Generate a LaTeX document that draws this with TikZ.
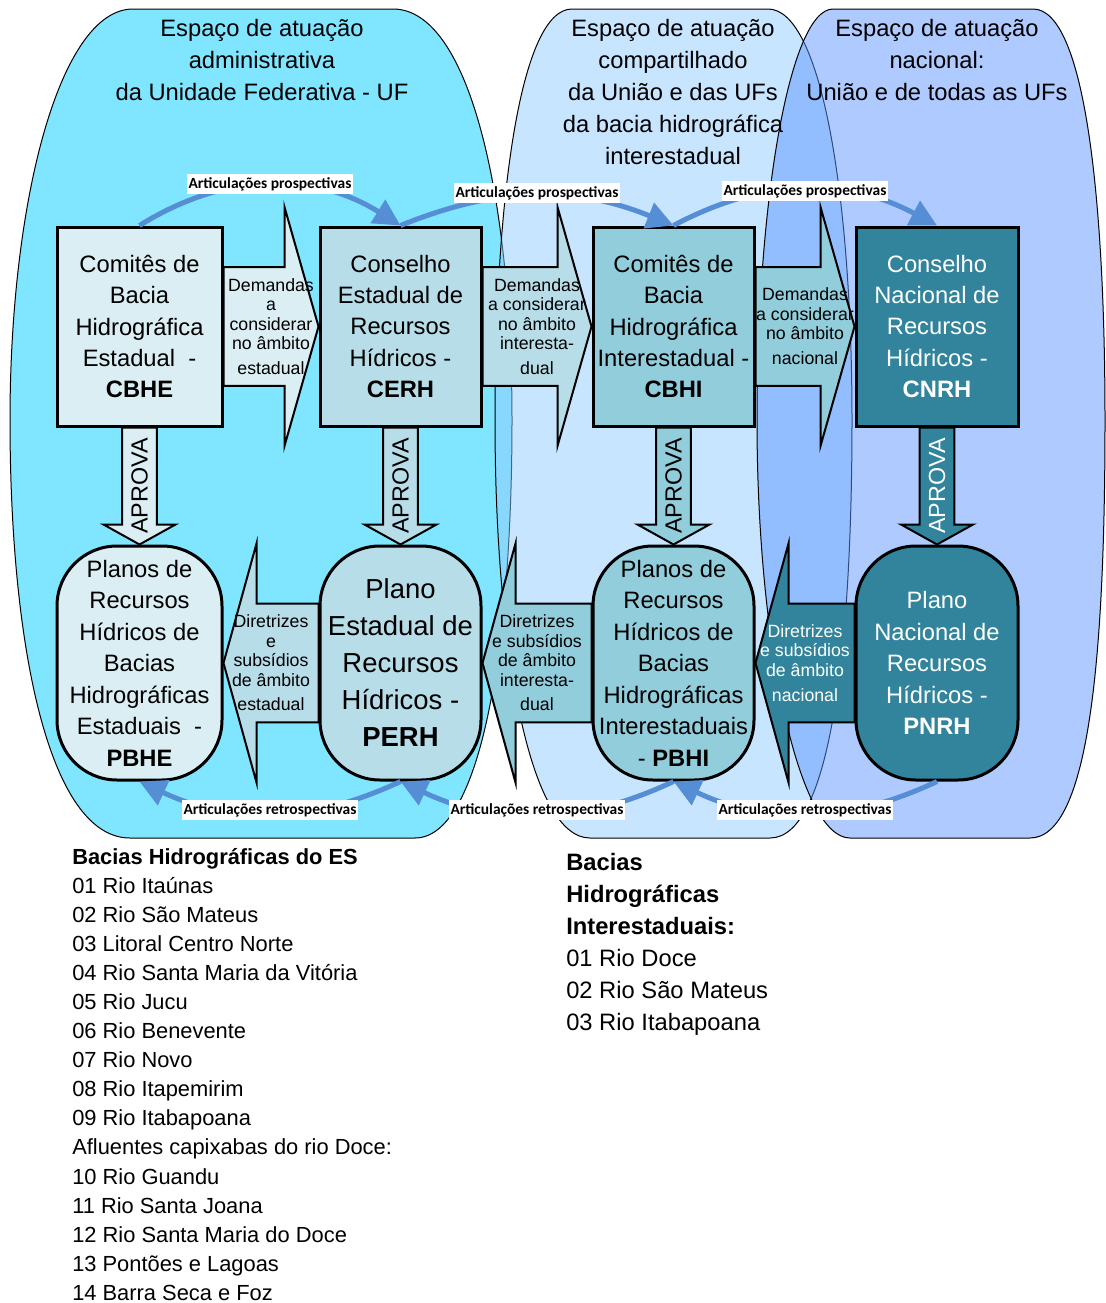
\documentclass[tikz,border=0pt]{standalone}
\usepackage{fontspec}
\setmainfont{Liberation Sans}
\newfontfamily\calibrifont{Carlito}
\usetikzlibrary{positioning,calc,arrows.meta}
\pgfdeclarelayer{back}
\pgfdeclarelayer{mid}
\pgfsetlayers{back,mid,main}

\definecolor{ufcyan}{RGB}{128,229,255}
\definecolor{sharedblue}{RGB}{144,203,255}
\definecolor{natblue}{RGB}{94,149,255}
\definecolor{paleteal}{RGB}{218,238,243}
\definecolor{lightteal}{RGB}{183,221,232}
\definecolor{midteal}{RGB}{146,205,220}
\definecolor{darkteal}{RGB}{49,132,155}
\definecolor{articblue}{RGB}{85,142,213}

\begin{document}
\begin{tikzpicture}[
    x=0.75pt, y=0.75pt,
    box/.style={draw, line width=2.25pt, inner sep=0pt, align=center, minimum height=149.25pt, font=\fontsize{17.8}{23.6}\selectfont},
    plan/.style={box, rounded corners=45pt, minimum height=175.5pt},
    bigarrow/.style={draw, line width=1.5pt},
    arrtext/.style={align=center, inner sep=0pt, font=\fontsize{13.3}{14.6}\selectfont},
    aprova/.style={rotate=90, inner sep=0pt, font=\fontsize{17.5}{20}\selectfont},
    artic/.style={articblue, line width=3.75pt, -{Triangle[length=20pt,width=20pt]}},
    articlabel/.style={fill=white, inner xsep=1pt, inner ysep=2.5pt, font=\calibrifont\bfseries\fontsize{11.6}{12}\selectfont},
    space/.style={draw, line width=0.75pt},
    title/.style={align=center, inner sep=0pt, font=\fontsize{17.8}{24}\selectfont},
    listtext/.style={anchor=north west, align=left, inner sep=0pt}
]
\useasboundingbox (0,0) rectangle (1106,-1303);

% Titles
\node (tuf) [title] at (262,-60) {Espaço de atuação\\administrativa\\da Unidade Federativa - UF};
\node (tshared) [title] at (673,-92) {Espaço de atuação\\compartilhado\\da União e das UFs\\da bacia hidrográfica\\interestadual};
\node (tnat) [title] at (937,-60) {Espaço de atuação\\nacional:\\União e de todas as UFs};

% Councils and committees
\node (cbhe) [box, fill=paleteal, minimum width=123.75pt] at (139.5,-326.5) {Comitês de\\Bacia\\Hidrográfica\\Estadual~~-\\\textbf{CBHE}};
\node (cerh) [box, fill=lightteal, minimum width=120.75pt] at (400.5,-326.5) {Conselho\\Estadual de\\Recursos\\Hídricos -\\\textbf{CERH}};
\node (cbhi) [box, fill=midteal, minimum width=120.75pt] at (673.5,-326.5) {Comitês de\\Bacia\\Hidrográfica\\Interestadual -\\\textbf{CBHI}};
\node (cnrh) [box, fill=darkteal, text=white, minimum width=121.5pt] at (937,-326.5) {Conselho\\Nacional de\\Recursos\\Hídricos -\\\textbf{CNRH}};

% Plans
\node (pbhe) [plan, fill=paleteal, minimum width=123.75pt] at (139.5,-663) {Planos de\\Recursos\\Hídricos de\\Bacias\\Hidrográficas\\Estaduais~~-\\\textbf{PBHE}};
\node (perh) [plan, fill=lightteal, minimum width=120.75pt, font=\fontsize{20.6}{27.75}\selectfont] at (400.5,-663) {Plano\\Estadual de\\Recursos\\Hídricos -\\\textbf{PERH}};
\node (pbhi) [plan, fill=midteal, minimum width=120.75pt] at (673.5,-663) {Planos de\\Recursos\\Hídricos de\\Bacias\\Hidrográficas\\Interestaduais\\- \textbf{PBHI}};
\node (pnrh) [plan, fill=darkteal, text=white, minimum width=121.5pt] at (937,-663) {Plano\\Nacional de\\Recursos\\Hídricos -\\\textbf{PNRH}};

% Block arrows
\begin{pgfonlayer}{mid}
\foreach \a/\b/\c in {cbhe/cerh/paleteal, cerh/cbhi/lightteal, cbhi/cnrh/midteal}
  \draw[bigarrow, fill=\c] ([yshift=44.6pt]\a.east) -- ([xshift=-25.5pt,yshift=44.6pt]\b.west) -- ([xshift=-25.5pt,yshift=89.6pt]\b.west) -- (\b.west) -- ([xshift=-25.5pt,yshift=-89.6pt]\b.west) -- ([xshift=-25.5pt,yshift=-44.6pt]\b.west) -- ([yshift=-44.6pt]\a.east) -- cycle;
\foreach \a/\b/\c in {perh/pbhe/lightteal, pbhi/perh/midteal, pnrh/pbhi/darkteal}
  \draw[bigarrow, fill=\c] ([yshift=44.6pt]\a.west) -- ([xshift=24.75pt,yshift=44.6pt]\b.east) -- ([xshift=24.75pt,yshift=89.6pt]\b.east) -- (\b.east) -- ([xshift=24.75pt,yshift=-89.6pt]\b.east) -- ([xshift=24.75pt,yshift=-44.6pt]\b.east) -- ([yshift=-44.6pt]\a.west) -- cycle;
\foreach \a/\b/\c in {cbhe/pbhe/paleteal, cerh/perh/lightteal, cbhi/pbhi/midteal, cnrh/pnrh/darkteal}
  \draw[bigarrow, fill=\c] ([xshift=-13.1pt]\a.south) -- ([xshift=-13.1pt,yshift=15pt]\b.north) -- ([xshift=-27pt,yshift=15pt]\b.north) -- (\b.north) -- ([xshift=27pt,yshift=15pt]\b.north) -- ([xshift=13.1pt,yshift=15pt]\b.north) -- ([xshift=13.1pt]\a.south) -- cycle;
\end{pgfonlayer}

% Arrow texts
\node (dem1) [arrtext] at ($(cbhe.east)!0.5!(cerh.west)$) {Demandas\\a\\considerar\\no âmbito\\[4pt]estadual};
\node (dem2) [arrtext] at ($(cerh.east)!0.5!(cbhi.west)$) {Demandas\\a considerar\\no âmbito\\interesta-\\[4pt]dual};
\node (dem3) [arrtext] at ($(cbhi.east)!0.5!(cnrh.west)$) {Demandas\\a considerar\\no âmbito\\[4pt]nacional};
\node (dir1) [arrtext] at ($(pbhe.east)!0.5!(perh.west)$) {Diretrizes\\e\\subsídios\\de âmbito\\[4pt]estadual};
\node (dir2) [arrtext] at ($(perh.east)!0.5!(pbhi.west)$) {Diretrizes\\e subsídios\\de âmbito\\interesta-\\[4pt]dual};
\node (dir3) [arrtext, text=white] at ($(pbhi.east)!0.5!(pnrh.west)$) {Diretrizes\\e subsídios\\de âmbito\\[4pt]nacional};
\foreach \a/\b/\t in {cbhe/pbhe/black, cerh/perh/black, cbhi/pbhi/black, cnrh/pnrh/white}
  \node (ap-\a) [aprova, text=\t] at ($(\a.south)!0.5!(\b.north)$) {APROVA};

% Articulations
\draw[artic] (cbhe.north) to[out=32,in=148] (cerh.north);
\draw[artic] (cerh.north) to[out=22,in=158] (cbhi.north);
\draw[artic] (cbhi.north) to[out=28,in=152] (cnrh.north);
\draw[artic] (perh.south) to[out=-155,in=-25] (pbhe.south);
\draw[artic] (pbhi.south) to[out=-155,in=-25] (perh.south);
\draw[artic] (pnrh.south) to[out=-155,in=-25] (pbhi.south);
\node (pro1) [articlabel] at (270,-184) {Articulações prospectivas};
\node (pro2) [articlabel] at (537,-193) {Articulações prospectivas};
\node (pro3) [articlabel] at (805,-191) {Articulações prospectivas};
\node (ret1) [articlabel] at (270,-810) {Articulações retrospectivas};
\node (ret2) [articlabel] at (537,-810) {Articulações retrospectivas};
\node (ret3) [articlabel] at (805,-810) {Articulações retrospectivas};

% Lists
\node (esbasins) [listtext, font=\fontsize{16.4}{21.8}\selectfont] at (72,-848) {\textbf{Bacias Hidrográficas do ES}\\01 Rio Itaúnas\\02 Rio São Mateus\\03 Litoral Centro Norte\\04 Rio Santa Maria da Vitória\\05 Rio Jucu\\06 Rio Benevente\\07 Rio Novo\\08 Rio Itapemirim\\09 Rio Itabapoana\\Afluentes capixabas do rio Doce:\\10 Rio Guandu\\11 Rio Santa Joana\\12 Rio Santa Maria do Doce\\13 Pontões e Lagoas\\14 Barra Seca e Foz};
\node (interbasins) [listtext, font=\fontsize{17.8}{24}\selectfont] at (566,-853) {\textbf{Bacias}\\\textbf{Hidrográficas}\\\textbf{Interestaduais:}\\01 Rio Doce\\02 Rio São Mateus\\03 Rio Itabapoana};

% Spaces of action
\begin{pgfonlayer}{back}
\draw[space, fill=ufcyan] (133,-9) -- (393,-9) .. controls (470,-9) and (512,-200) .. (512,-420) .. controls (512,-650) and (480,-838) .. (415,-838) -- (130,-838) .. controls (50,-838) and (10,-650) .. (10,-420) .. controls (10,-200) and (60,-9) .. (133,-9) -- cycle;
\draw[space, fill=sharedblue, fill opacity=0.5] (572,-9) -- (768,-9) .. controls (822,-9) and (852,-200) .. (852,-420) .. controls (852,-650) and (830,-838) .. (770,-838) -- (590,-838) .. controls (530,-838) and (495,-650) .. (495,-420) .. controls (495,-200) and (520,-9) .. (572,-9) -- cycle;
\draw[space, fill=natblue, fill opacity=0.5] (833,-9) -- (1033,-9) .. controls (1085,-9) and (1105,-200) .. (1105,-420) .. controls (1105,-650) and (1090,-838) .. (1030,-838) -- (850,-838) .. controls (800,-838) and (757,-650) .. (757,-420) .. controls (757,-200) and (790,-9) .. (833,-9) -- cycle;
\end{pgfonlayer}

\end{tikzpicture}
\end{document}
